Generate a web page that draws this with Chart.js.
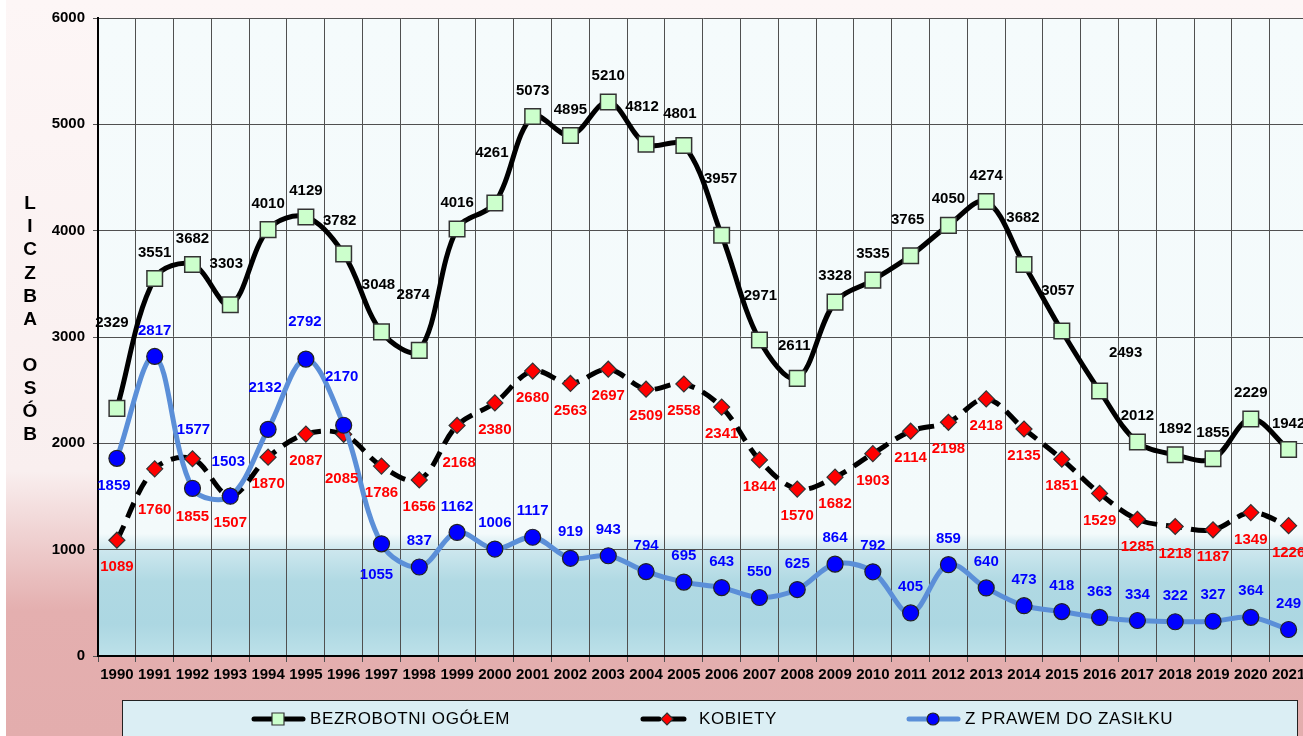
<!DOCTYPE html>
<html lang="pl">
  <head>
    <meta charset="UTF-8" />
    <title>Bezrobotni 1990-2021</title>
    <style>
      html, body { margin: 0; padding: 0; background: #fff; overflow: hidden; }
      #wrap { width: 1320px; height: 736px; }
    </style>
  </head>
  <body>
    <div id="wrap">
      <canvas id="lienzo" width="1320" height="736"></canvas>
    </div>

    <script src="https://cdn.jsdelivr.net/npm/chart.js"></script>

    <script>
      const lata = ["1990","1991","1992","1993","1994","1995","1996","1997","1998","1999","2000","2001","2002","2003","2004","2005","2006","2007","2008","2009","2010","2011","2012","2013","2014","2015","2016","2017","2018","2019","2020","2021"];
      const ogolem = [2329,3551,3682,3303,4010,4129,3782,3048,2874,4016,4261,5073,4895,5210,4812,4801,3957,2971,2611,3328,3535,3765,4050,4274,3682,3057,2493,2012,1892,1855,2229,1942];
      const kobiety = [1089,1760,1855,1507,1870,2087,2085,1786,1656,2168,2380,2680,2563,2697,2509,2558,2341,1844,1570,1682,1903,2114,2198,2418,2135,1851,1529,1285,1218,1187,1349,1226];
      const zasilek = [1859,2817,1577,1503,2132,2792,2170,1055,837,1162,1006,1117,919,943,794,695,643,550,625,864,792,405,859,640,473,418,363,334,322,327,364,249];
      const nazwy = ["BEZROBOTNI OGÓŁEM", "KOBIETY", "Z PRAWEM DO ZASIŁKU"];
      const tytulY = "LICZBA OSÓB";

      // przesuniecia etykiet (dx, dy w px) - domyslne i wyjatki
      const etykiety = [
        { kolor: "#000000", dom: [0, -26], wyj: { 1990: [-5, -85], 1993: [-4, -41], 1996: [-4, -33], 1997: [-3, -47], 1998: [-6, -56], 2000: [-3, -50], 2004: [-4, -37], 2005: [-4, -32], 2006: [-1, -56], 2007: [1, -44], 2008: [-3, -33], 2011: [-3, -36], 2014: [-1, -47], 2015: [-4, -40], 2016: [26, -38] } },
        { kolor: "#ff0000", dom: [0, 27], wyj: { 1991: [0, 41], 1992: [0, 58], 1996: [-2, 45], 1999: [2, 37] } },
        { kolor: "#0000ff", dom: [0, -26], wyj: { 1990: [-3, 28], 1992: [1, -58], 1993: [-2, -34], 1994: [-3, -41], 1995: [-1, -37], 1996: [-2, -48], 1997: [-5, 31] } },
      ];

      const tlo = {
        id: "tlo",
        beforeDraw(chart) {
          const { ctx, chartArea: a } = chart;
          ctx.save();
          const g = ctx.createLinearGradient(0, 0, 0, 736);
          g.addColorStop(0, "#fdf6f6");
          g.addColorStop(0.64, "#f9efef");
          g.addColorStop(0.83, "#e4afaf");
          g.addColorStop(1, "#e3adad");
          ctx.fillStyle = g;
          ctx.fillRect(6, 0, chart.width, chart.height);
          const y = chart.scales.y;
          const p = ctx.createLinearGradient(0, a.top, 0, a.bottom);
          const f = (v) => (y.getPixelForValue(v) - a.top) / (a.bottom - a.top);
          p.addColorStop(0, "#f5fbfc");
          p.addColorStop(f(1150), "#f3fafb");
          p.addColorStop(f(1000), "#cde7ee");
          p.addColorStop(f(700), "#b0d9e3");
          p.addColorStop(f(300), "#acd7e2");
          p.addColorStop(1, "#bde1e9");
          ctx.fillStyle = p;
          ctx.fillRect(a.left, a.top, a.right - a.left, a.bottom - a.top);
          ctx.restore();
        },
      };

      const napisy = {
        id: "napisy",
        afterDatasetsDraw(chart) {
          const ctx = chart.ctx;
          ctx.save();
          ctx.font = "bold 15px 'Liberation Sans', Arial, sans-serif";
          ctx.textAlign = "center";
          ctx.textBaseline = "middle";
          chart.data.datasets.forEach((ds, i) => {
            const e = etykiety[i];
            ctx.fillStyle = e.kolor;
            chart.getDatasetMeta(i).data.forEach((pt, j) => {
              const d = e.wyj[lata[j]] || e.dom;
              ctx.fillText(String(ds.data[j]), pt.x + d[0], pt.y + d[1]);
            });
          });
          ctx.restore();
        },
        afterDraw(chart) {
          const ctx = chart.ctx;
          ctx.save();
          // tytul osi Y, litery jedna pod druga
          ctx.font = "bold 19px 'Liberation Sans', Arial, sans-serif";
          ctx.fillStyle = "#000";
          ctx.textAlign = "center";
          ctx.textBaseline = "middle";
          [...tytulY].forEach((ch, k) => ctx.fillText(ch, 30, 204 + k * 23.1));

          // legenda
          ctx.fillStyle = "#dbeef4";
          ctx.fillRect(122.5, 700.5, 1175, 50);
          ctx.strokeStyle = "#222";
          ctx.lineWidth = 1;
          ctx.strokeRect(122.5, 700.5, 1175, 50);
          const startX = [252, 641, 907];
          const ly = 719;
          chart.data.datasets.forEach((ds, i) => {
            const x0 = startX[i];
            ctx.save();
            ctx.strokeStyle = ds.borderColor;
            ctx.lineWidth = ds.borderWidth;
            ctx.setLineDash(ds.borderDash || []);
            ctx.lineCap = "round";
            ctx.beginPath();
            ctx.moveTo(x0 + 2, ly);
            ctx.lineTo(x0 + 51, ly);
            ctx.stroke();
            ctx.restore();
            const cx = x0 + 26;
            ctx.fillStyle = ds.pointBackgroundColor;
            ctx.strokeStyle = ds.pointBorderColor;
            ctx.lineWidth = 1.2;
            ctx.beginPath();
            if (ds.pointStyle === "rect") ctx.rect(cx - 6, ly - 6, 12, 12);
            else if (ds.pointStyle === "rectRot") { ctx.moveTo(cx, ly - 6); ctx.lineTo(cx + 6, ly); ctx.lineTo(cx, ly + 6); ctx.lineTo(cx - 6, ly); ctx.closePath(); }
            else ctx.arc(cx, ly, 6, 0, Math.PI * 2);
            ctx.fill();
            ctx.stroke();
            ctx.fillStyle = "#000";
            ctx.font = "17px 'Liberation Sans', Arial, sans-serif";
            ctx.letterSpacing = "0.6px";
            ctx.textAlign = "left";
            ctx.fillText(ds.label, x0 + 58, ly);
            ctx.letterSpacing = "0px";
          });
          ctx.restore();
        },
      };

      const lienzo = document.querySelector("#lienzo");
      const grafico = new Chart(lienzo, {
        type: "line",
        data: {
          labels: lata,
          datasets: [
            {
              label: nazwy[0],
              data: ogolem,
              borderColor: "#000000",
              borderWidth: 5,
              tension: 0.35,
              pointStyle: "rect",
              pointRadius: 11,
              pointBackgroundColor: "#ccffcc",
              pointBorderColor: "#333333",
              pointBorderWidth: 1.5,
              order: 1,
            },
            {
              label: nazwy[1],
              data: kobiety,
              borderColor: "#000000",
              borderWidth: 5,
              borderDash: [16, 9],
              tension: 0.35,
              pointStyle: "rectRot",
              pointRadius: 8,
              pointBackgroundColor: "#ff0000",
              pointBorderColor: "#333333",
              pointBorderWidth: 1.2,
              order: 2,
            },
            {
              label: nazwy[2],
              data: zasilek,
              borderColor: "#5b8fd8",
              borderWidth: 5,
              tension: 0.35,
              pointStyle: "circle",
              pointRadius: 8,
              pointBackgroundColor: "#0000ff",
              pointBorderColor: "#222222",
              pointBorderWidth: 1.2,
              order: 0,
            },
          ],
        },
        options: {
          responsive: false,
          animation: false,
          devicePixelRatio: 1,
          layout: { padding: { top: 18, right: 3, left: 0, bottom: 0 } },
          plugins: { legend: { display: false }, tooltip: { enabled: false } },
          scales: {
            x: {
              offset: true,
              grid: { offset: true, color: "#505050", lineWidth: 1, tickLength: 6 },
              border: { color: "#000", width: 2 },
              ticks: {
                color: "#000",
                padding: 4,
                maxRotation: 0,
                autoSkip: false,
                font: { family: "'Liberation Sans', Arial, sans-serif", size: 15, weight: "bold" },
              },
              afterFit: (s) => { s.height = 80; },
            },
            y: {
              min: 0,
              max: 6000,
              grid: { color: "#505050", lineWidth: 1, tickLength: 5 },
              border: { color: "#000", width: 2 },
              ticks: {
                stepSize: 1000,
                color: "#000",
                padding: 8,
                callback: (v) => String(v),
                font: { family: "'Liberation Sans', Arial, sans-serif", size: 15, weight: "bold" },
              },
              afterFit: (s) => { s.width = 98; },
            },
          },
        },
        plugins: [tlo, napisy],
      });
    </script>
  </body>
</html>
